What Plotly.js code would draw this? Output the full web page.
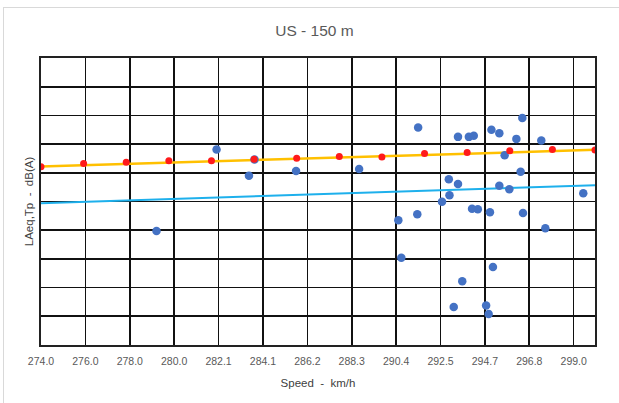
<!DOCTYPE html>
<html>
<head>
<meta charset="utf-8">
<script src="https://cdn.plot.ly/plotly-3.0.1.min.js"></script>
<style>
html,body{margin:0;padding:0;background:#fff;}
#wrap{position:relative;width:619px;height:403px;overflow:hidden;}
#chart{position:absolute;left:0;top:0;width:619px;height:403px;}
#frame{position:absolute;left:3px;top:7px;width:640px;height:420px;border:1px solid #d9d9d9;pointer-events:none;}
</style>
</head>
<body>
<div id="wrap"><div id="chart"></div><div id="frame"></div></div>
<script>
// Measured points (blue)
var speedMeasured = [282.24,284.02,283.76,285.97,279.42,288.93,291.70,290.77,290.91,291.66,
  293.14,293.57,293.17,292.82,293.57,294.08,294.31,295.14,295.51,296.59,
  296.31,297.48,295.76,296.51,295.51,295.98,294.23,294.50,295.07,296.62,
  297.67,299.45,295.21,293.77,293.37,294.89,295.01];
var laeqMeasured = [64.04,62.30,59.50,60.32,49.85,60.67,67.88,51.72,45.19,52.77,
  58.88,58.06,56.08,54.97,66.26,66.26,66.44,67.48,66.91,69.53,
  65.91,65.61,63.07,60.20,57.76,57.13,53.74,53.64,53.11,52.99,
  50.32,56.43,43.57,41.12,36.63,36.88,35.41];
// Red points (limit series)
var speedLimit = [274,276,278,280,282,284,286,288,290,292,294,296,298,300];
var laeqLimit = [61.07,61.60,61.84,62.12,62.12,62.37,62.54,62.82,62.77,63.35,63.52,63.82,64.04,63.99];
// Trend lines
var trendOrangeX = [274,300];
var trendOrangeY = [61.10,64.00];
var trendBlueX = [274,300];
var trendBlueY = [54.69,57.83];
// Axis ticks
var xTickVals = [274,276.0833,278.1667,280.25,282.3333,284.4167,286.5,288.5833,290.6667,292.75,294.8333,296.9167,299];
var xTickText = ["274.0","276.0","278.0","280.0","282.1","284.1","286.2","288.3","290.4","292.5","294.7","296.8","299.0"];

var traces = [
  {x: trendBlueX, y: trendBlueY, mode:'lines', line:{color:'#1EB0EC', width:2}, hoverinfo:'skip'},
  {x: trendOrangeX, y: trendOrangeY, mode:'lines', line:{color:'#FFC000', width:2.5}, hoverinfo:'skip'},
  {x: speedMeasured, y: laeqMeasured, mode:'markers', marker:{color:'#4472C4', size:8.5}},
  {x: speedLimit, y: laeqLimit, mode:'markers', marker:{color:'#FF1A1A', size:7}}
];

var layout = {
  width:619, height:403,
  margin:{l:40.7, r:23.7, t:58.3, b:58.3},
  paper_bgcolor:'rgba(0,0,0,0)', plot_bgcolor:'#fff',
  showlegend:false,
  font:{family:'Liberation Sans, Arial, sans-serif', color:'#595959'},
  title:{text:'US - 150 m', x:0.508, xanchor:'center', y:0.925, yanchor:'middle', font:{size:15.5, color:'#595959'}},
  xaxis:{range:[274,300], tickvals:xTickVals, ticktext:xTickText, showgrid:true, gridcolor:'#111', gridwidth:1.6,
    zeroline:false, showline:true, linecolor:'#222', linewidth:1.8, mirror:true, ticks:'', ticklabelstandoff:6,
    tickfont:{size:10.5, color:'#595959'},
    title:{text:'Speed  -  km/h', font:{size:11.5, color:'#404040'}, standoff:12}},
  yaxis:{range:[30,80], dtick:5, tick0:30, showticklabels:false, showgrid:true, gridcolor:'#111', gridwidth:1.6,
    zeroline:false, showline:true, linecolor:'#222', linewidth:1.8, mirror:true, ticks:'',
    title:{text:'LAeq,Tp  -  dB(A)', font:{size:11.5, color:'#404040'}, standoff:3}}
};
Plotly.newPlot('chart', traces, layout, {staticPlot:true, displayModeBar:false});
</script>
</body>
</html>
